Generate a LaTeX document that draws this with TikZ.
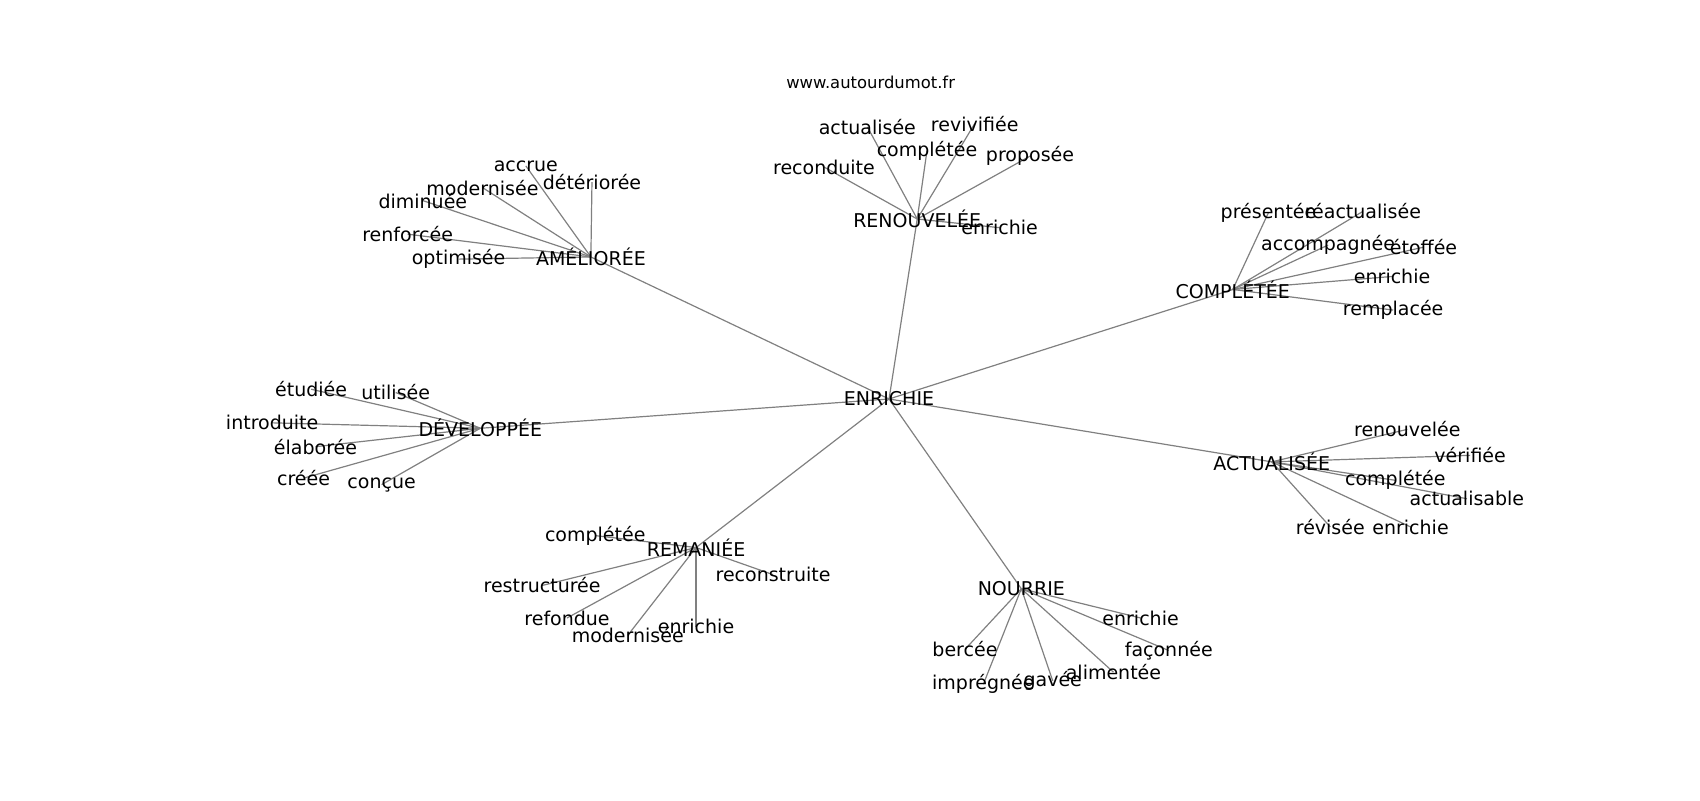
\documentclass[tikz,border=0pt]{standalone}
\usepackage{fontspec}
\setmainfont{DejaVu Sans}
\usetikzlibrary{backgrounds}
\tikzset{
    word/.style={
    inner sep=0pt,font=\fontsize{9.5}{11}\selectfont
    },
    site/.style={
    inner sep=0pt,font=\fontsize{8.2}{10}\selectfont
    },
    link/.style={
    draw=gray,line width=0.6pt
    },
}
\begin{document}
\begin{tikzpicture}[x=0.542pt, y=-0.542pt]
   \useasboundingbox (0,0) rectangle (1568,738);
   \node[site] (site) at (803,76) {www.autourdumot.fr};
   % hubs
   \node[word] (ENR) at (820,368) {ENRICHIE};
   \node[word] (AME) at (545,237) {AMÉLIORÉE};
   \node[word] (REN) at (846,202) {RENOUVELÉE};
   \node[word] (CPL) at (1137,267) {COMPLÉTÉE};
   \node[word] (DEV) at (443,395) {DÉVELOPPÉE};
   \node[word] (ACT) at (1173,426) {ACTUALISÉE};
   \node[word] (REM) at (642,505) {REMANIÉE};
   \node[word] (NOU) at (942,543) {NOURRIE};
   % AMÉLIORÉE
   \node[word] (ame1) at (485,153) {accrue};
   \node[word] (ame2) at (546,168) {détériorée};
   \node[word] (ame3) at (445,173) {modernisée};
   \node[word] (ame4) at (390,185) {diminuée};
   \node[word] (ame5) at (376,216) {renforcée};
   \node[word] (ame6) at (423,239) {optimisée};
   % RENOUVELÉE
   \node[word] (ren1) at (800,117) {actualisée};
   \node[word] (ren2) at (899,114) {revivifiée};
   \node[word] (ren3) at (855,139) {complétée};
   \node[word] (ren4) at (760,154) {reconduite};
   \node[word] (ren5) at (950,144) {proposée};
   \node[word] (ren6) at (922,210) {enrichie};
   % COMPLÉTÉE
   \node[word] (cpl1) at (1170,196) {présentée};
   \node[word] (cpl2) at (1257,195) {réactualisée};
   \node[word] (cpl3) at (1225,226) {accompagnée};
   \node[word] (cpl4) at (1313,228) {étoffée};
   \node[word] (cpl5) at (1284,255) {enrichie};
   \node[word] (cpl6) at (1285,286) {remplacée};
   % DÉVELOPPÉE
   \node[word] (dev1) at (287,359) {étudiée};
   \node[word] (dev2) at (365,362) {utilisée};
   \node[word] (dev3) at (251,390) {introduite};
   \node[word] (dev4) at (291,412) {élaborée};
   \node[word] (dev5) at (280,441) {créée};
   \node[word] (dev6) at (352,447) {conçue};
   % ACTUALISÉE
   \node[word] (act1) at (1298,396) {renouvelée};
   \node[word] (act2) at (1356,420) {vérifiée};
   \node[word] (act3) at (1287,443) {complétée};
   \node[word] (act4) at (1353,460) {actualisable};
   \node[word] (act5) at (1227,486) {révisée};
   \node[word] (act6) at (1301,486) {enrichie};
   % REMANIÉE
   \node[word] (rem1) at (549,494) {complétée};
   \node[word] (rem2) at (713,530) {reconstruite};
   \node[word] (rem3) at (500,540) {restructurée};
   \node[word] (rem4) at (523,570) {refondue};
   \node[word] (rem5) at (579,586) {modernisée};
   \node[word] (rem6) at (642,578) {enrichie};
   % NOURRIE
   \node[word] (nou1) at (1052,570) {enrichie};
   \node[word] (nou2) at (1078,600) {façonnée};
   \node[word] (nou3) at (1027,620) {alimentée};
   \node[word] (nou4) at (971,628) {gavée};
   \node[word] (nou5) at (907,631) {imprégnée};
   \node[word] (nou6) at (890,599) {bercée};

  \begin{scope}[on background layer]
  \path[link]
    (ENR.center) edge (AME.center) edge (REN.center) edge (CPL.center) edge (DEV.center)
                 edge (ACT.center) edge (REM.center) edge (NOU.center)
    (AME.center) edge (ame1.center) edge (ame2.center) edge (ame3.center)
                 edge (ame4.center) edge (ame5.center) edge (ame6.center)
    (REN.center) edge (ren1.center) edge (ren2.center) edge (ren3.center)
                 edge (ren4.center) edge (ren5.center) edge (ren6.center)
    (CPL.center) edge (cpl1.center) edge (cpl2.center) edge (cpl3.center)
                 edge (cpl4.center) edge (cpl5.center) edge (cpl6.center)
    (DEV.center) edge (dev1.center) edge (dev2.center) edge (dev3.center)
                 edge (dev4.center) edge (dev5.center) edge (dev6.center)
    (ACT.center) edge (act1.center) edge (act2.center) edge (act3.center)
                 edge (act4.center) edge (act5.center) edge (act6.center)
    (REM.center) edge (rem1.center) edge (rem2.center) edge (rem3.center)
                 edge (rem4.center) edge (rem5.center) edge (rem6.center)
    (NOU.center) edge (nou1.center) edge (nou2.center) edge (nou3.center)
                 edge (nou4.center) edge (nou5.center) edge (nou6.center);
  \end{scope}
\end{tikzpicture}
\end{document}
